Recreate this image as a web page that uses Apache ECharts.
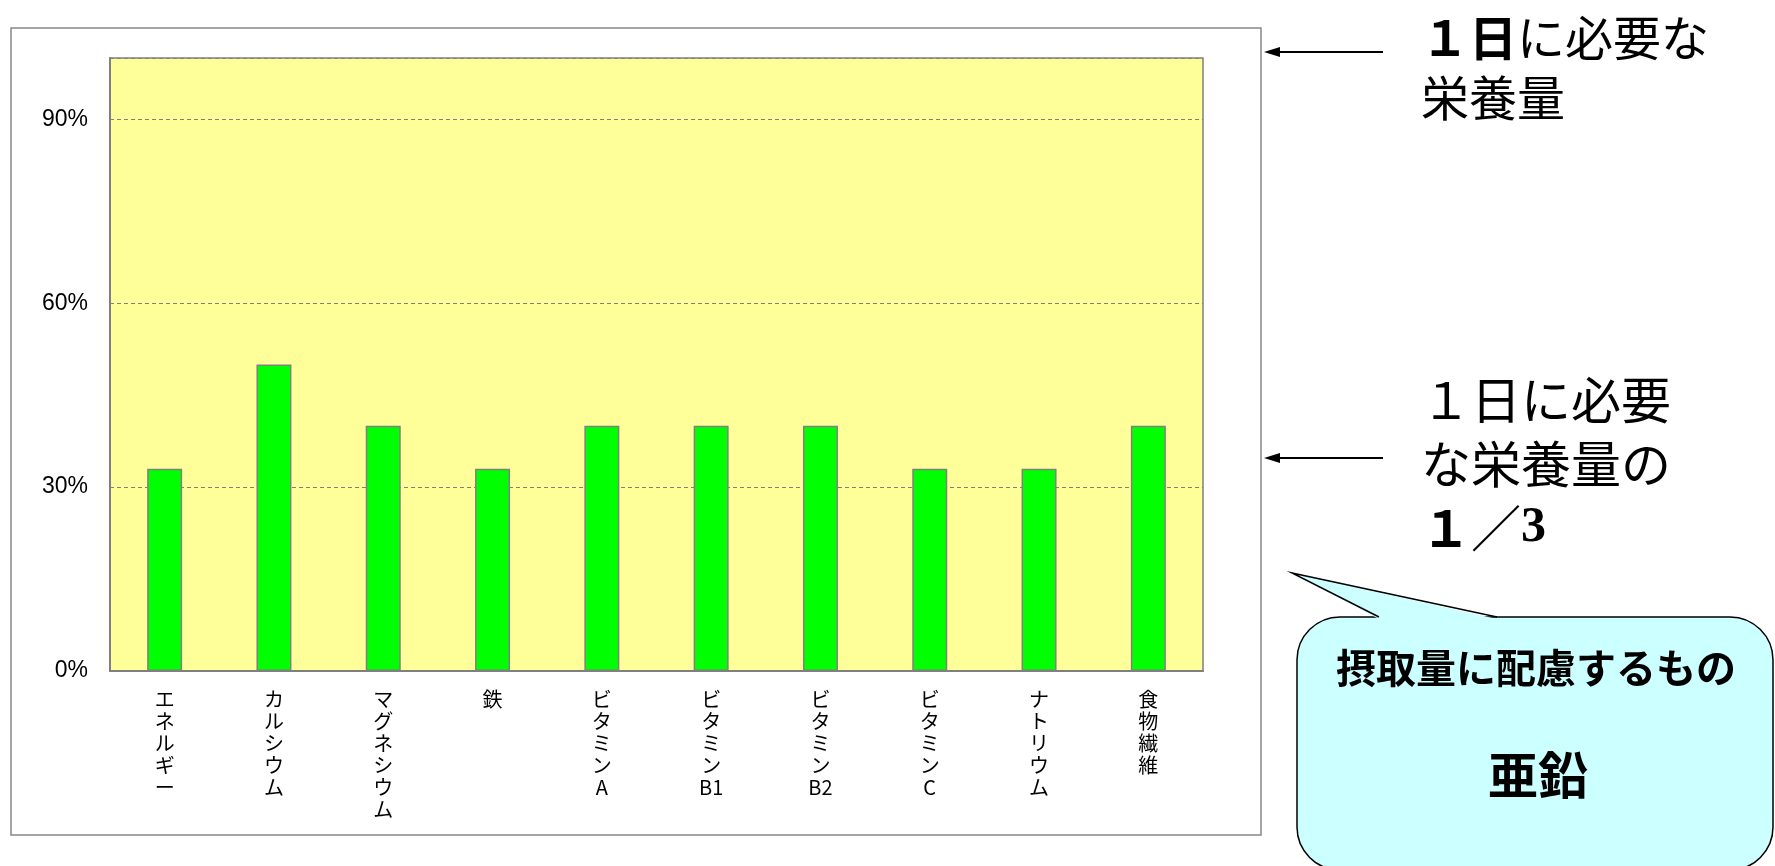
<!DOCTYPE html>
<html>
<head>
<meta charset="utf-8">
<script src="https://cdn.jsdelivr.net/npm/echarts@6/dist/echarts.min.js"></script>
<style>
  html, body { margin: 0; padding: 0; background: #fff; }
  #chart { width: 1775px; height: 866px; }
</style>
</head>
<body>
<div id="chart"></div>
<script>
  // 栄養素ごとの充足率（1日に必要な量に対する％）
  const categories = ['エネルギー', 'カルシウム', 'マグネシウム', '鉄', 'ビタミンA',
    'ビタミンB1', 'ビタミンB2', 'ビタミンC', 'ナトリウム', '食物繊維'];
  const values = [33, 50, 40, 33, 40, 40, 40, 33, 33, 40];
  const yMin = 0;
  const yMax = 100;
  const yStep = 30;

  const jp = '"Noto Sans CJK JP", sans-serif';
  const gray = '#808080';

  const chart = echarts.init(document.getElementById('chart'));

  // 縦書き風：1文字ずつ改行（英数字はまとめて1行）
  function tategaki(v) {
    return (v.match(/[A-Za-z0-9]+|./g) || []).join('\n');
  }

  // 矢印（横線＋三角）
  function arrow(y) {
    return {
      type: 'group',
      children: [
        { type: 'line', shape: { x1: 1276, y1: y, x2: 1383, y2: y }, style: { stroke: '#000', lineWidth: 2 } },
        { type: 'polygon', shape: { points: [[1264, y], [1280, y - 5], [1280, y + 5]] }, style: { fill: '#000' } }
      ]
    };
  }

  const option = {
    backgroundColor: '#fff',
    animation: false,
    grid: {
      left: 110,
      top: 58,
      right: 1775 - 1203,
      bottom: 866 - 671,
      show: true,
      backgroundColor: '#ffff99',
      borderColor: gray,
      borderWidth: 1.5
    },
    xAxis: {
      type: 'category',
      data: categories,
      axisLine: { lineStyle: { color: gray, width: 2 } },
      axisTick: { show: false },
      axisLabel: {
        interval: 0,
        margin: 17,
        color: '#000',
        fontFamily: jp,
        fontSize: 20,
        lineHeight: 22,
        verticalAlign: 'top',
        formatter: tategaki
      }
    },
    yAxis: {
      type: 'value',
      min: yMin,
      max: yMax,
      interval: yStep,
      axisLine: { show: true, lineStyle: { color: gray, width: 2 } },
      axisTick: { show: false },
      axisLabel: {
        margin: 22,
        color: '#000',
        fontFamily: '"Liberation Sans", Arial, sans-serif',
        fontSize: 23,
        showMaxLabel: false,
        formatter: function (v) { return v === yMax ? '' : v + '%'; }
      },
      splitLine: {
        show: true,
        lineStyle: { color: gray, type: [4, 3], width: 1 }
      }
    },
    series: [{
      type: 'bar',
      data: values,
      barWidth: 35,
      itemStyle: { color: '#00ff00', borderColor: gray, borderWidth: 1.5 }
    }],
    graphic: [
      // 外枠
      { type: 'rect', z: -1, shape: { x: 11, y: 28, width: 1250, height: 807 },
        style: { fill: 'none', stroke: '#888', lineWidth: 1.5 } },
      arrow(52),
      arrow(458),
      {
        type: 'text', x: 1421, y: 8,
        style: {
          text: '{b|１日}に必要な\n栄養量',
          font: '48px ' + jp,
          fill: '#000',
          lineHeight: 60,
          rich: { b: { font: 'bold 48px ' + jp, lineHeight: 60 } }
        }
      },
      {
        type: 'text', x: 1421, y: 368,
        style: {
          text: '１日に必要\nな栄養量の\n{b|１}{s|／}{t|3}',
          font: '50px ' + jp,
          fill: '#000',
          lineHeight: 64,
          rich: {
            b: { font: 'bold 50px ' + jp, lineHeight: 64 },
            s: { font: '50px ' + jp, lineHeight: 64 },
            t: { font: 'bold 50px "Liberation Serif", serif', lineHeight: 64 }
          }
        }
      },
      // 吹き出し
      { type: 'rect', shape: { x: 1297, y: 617, width: 476, height: 253, r: 43 },
        style: { fill: '#ccffff', stroke: '#000', lineWidth: 1.5 } },
      { type: 'polygon', shape: { points: [[1292, 573], [1379, 619], [1497, 619]] },
        style: { fill: '#ccffff' } },
      { type: 'polyline', shape: { points: [[1379, 617], [1292, 573], [1497, 617]] },
        style: { stroke: '#000', lineWidth: 1.5, fill: null } },
      {
        type: 'text', x: 1536, y: 668,
        style: { text: '摂取量に配慮するもの', font: 'bold 40px ' + jp, fill: '#000',
          textAlign: 'center', textVerticalAlign: 'middle' }
      },
      {
        type: 'text', x: 1538, y: 775,
        style: { text: '亜鉛', font: 'bold 50px ' + jp, fill: '#000',
          textAlign: 'center', textVerticalAlign: 'middle' }
      }
    ]
  };

  chart.setOption(option);
  window.addEventListener('resize', chart.resize);
</script>
</body>
</html>
